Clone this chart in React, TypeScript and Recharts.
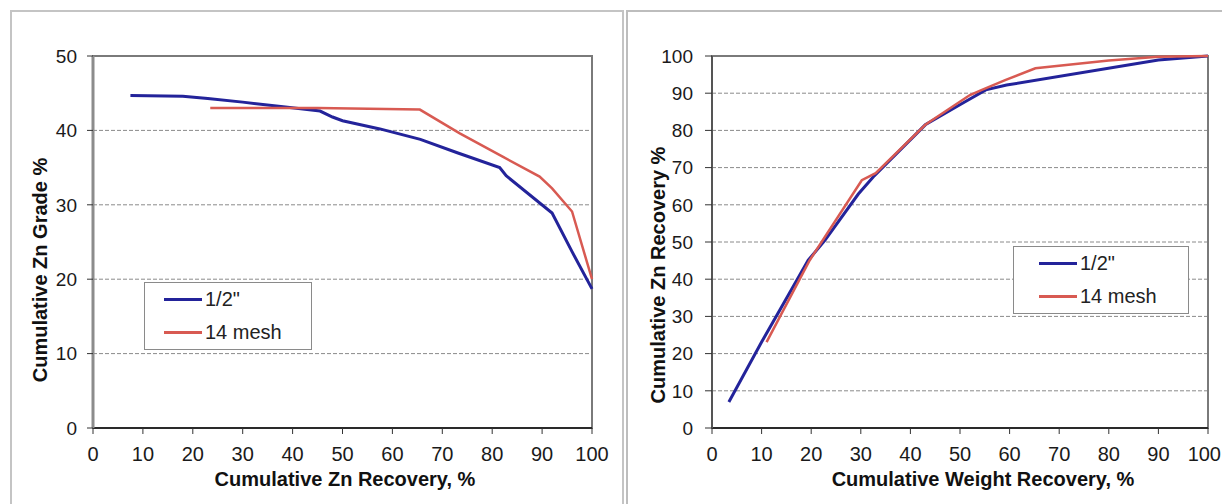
import React from "react";
import {
  LineChart,
  Line,
  XAxis,
  YAxis,
  CartesianGrid,
  Legend,
  ReferenceArea,
} from "recharts";

// shared axis ticks
const recoveryTicks = [0, 10, 20, 30, 40, 50, 60, 70, 80, 90, 100];
const gradeTicks = [0, 10, 20, 30, 40, 50];

// left panel: cumulative Zn recovery (x) vs cumulative Zn grade (y)
const gradeHalfInchX = [7.5, 18, 23, 30, 39, 45.5, 48, 50, 57.5, 65.6, 73, 81.5, 82.8, 92, 96, 100];
const gradeHalfInchY = [44.7, 44.6, 44.3, 43.8, 43.1, 42.6, 41.8, 41.3, 40.2, 38.8, 37.0, 35.0, 33.9, 28.9, 23.7, 18.7];
const gradeMeshX = [23.5, 45, 65.5, 73.5, 82, 89.5, 92, 96, 100];
const gradeMeshY = [43.0, 43.0, 42.8, 39.6, 36.5, 33.8, 32.2, 29.1, 20.0];

// right panel: cumulative weight recovery (x) vs cumulative Zn recovery (y)
const recHalfInchX = [3.4, 10, 19.4, 22.8, 29.5, 32.5, 43, 50.5, 55.2, 59.4, 90, 100];
const recHalfInchY = [7.0, 23.1, 45.1, 50.5, 62.9, 67.5, 81.5, 87.3, 90.9, 92.2, 98.9, 100];
const recMeshX = [11, 19.7, 30.2, 33, 43, 52, 54.3, 59.1, 65.2, 80, 90, 100];
const recMeshY = [23.1, 45.1, 66.6, 68.5, 81.5, 89.5, 90.8, 93.5, 96.7, 98.8, 99.8, 100];

const SERIES_NAMES = ['1/2"', "14 mesh"];
const BLUE = "#23239a";
const RED = "#d85a52";
const FONT = '"Liberation Sans", Arial, sans-serif';

const toPoints = (xs: number[], ys: number[]) => xs.map((x, i) => ({ x, y: ys[i] }));

function AxisTitle({ tx, ty, text, vertical }: { tx: number; ty: number; text: string; vertical?: boolean }) {
  return (
    <text
      x={tx}
      y={ty}
      textAnchor="middle"
      dominantBaseline={vertical ? "central" : "auto"}
      transform={vertical ? `rotate(-90 ${tx} ${ty})` : undefined}
      fontFamily={FONT}
      fontWeight="bold"
      fontSize={20}
      fill="#111"
    >
      {text}
    </text>
  );
}

// x tick; the last label of the right panel sits at the window edge, so pull it in a bit
function XTick({ x, y, payload, clampLast }: any) {
  const last = clampLast && payload.value === 100;
  return (
    <text
      x={last ? x + 13 : x}
      y={y}
      dy="0.71em"
      textAnchor={last ? "end" : "middle"}
      fontFamily={FONT}
      fontSize={20}
      fill="#1a1a1a"
    >
      {payload.value}
    </text>
  );
}

function LegendBox({ payload, width, lineLeft }: any) {
  return (
    <div
      style={{
        width,
        height: 68,
        boxSizing: "border-box",
        border: "1.5px solid #8a8a8a",
        background: "#fff",
        fontFamily: FONT,
        fontSize: 20,
        color: "#222",
      }}
    >
      {(payload ?? []).map((p: any) => (
        <div key={p.value} style={{ display: "flex", alignItems: "center", height: 33 }}>
          <span style={{ display: "inline-block", marginLeft: lineLeft, width: 38, height: 3, background: p.color }} />
          <span style={{ marginLeft: 3 }}>{p.value}</span>
        </div>
      ))}
    </div>
  );
}

const tickStyle = { fontFamily: FONT, fill: "#1a1a1a" };

export default function App() {
  return (
    <div style={{ position: "absolute", left: 0, top: 0, width: 1222, height: 504, overflow: "hidden", background: "#fff" }}>
      {/* panel frames */}
      <div style={{ position: "absolute", left: 10, top: 10, width: 610, height: 600, border: "2px solid #c4c4c4", borderBottom: "none" }} />
      <div style={{ position: "absolute", left: 626, top: 10, width: 700, height: 600, border: "2px solid #bdbdbd", borderBottom: "none" }} />

      <div style={{ position: "absolute", left: 0, top: 0 }}>
        <LineChart width={610} height={504} margin={{ top: 56, right: 18, left: 0, bottom: 16 }}>
          <CartesianGrid horizontal vertical={false} stroke="#8a8a8a" strokeDasharray="4 2" />
          <ReferenceArea x1={0} x2={100} y1={0} y2={50} fill="none" stroke="#7a7a7a" strokeWidth={2} />
          <XAxis
            type="number"
            dataKey="x"
            domain={[0, 100]}
            ticks={recoveryTicks}
            interval={0}
            height={60}
            tickSize={6}
            tickMargin={13}
            tick={<XTick />}
            axisLine={{ stroke: "#111", strokeWidth: 1.5 }}
            tickLine={{ stroke: "#333" }}
            label={<AxisTitle tx={345} ty={486} text="Cumulative  Zn Recovery,  %" />}
          />
          <YAxis
            type="number"
            dataKey="y"
            domain={[0, 50]}
            ticks={gradeTicks}
            interval={0}
            width={93}
            tickSize={6}
            tickMargin={10}
            tick={{ ...tickStyle, fontSize: 19 }}
            axisLine={{ stroke: "#8c8c8c", strokeWidth: 3 }}
            tickLine={{ stroke: "#333" }}
            label={<AxisTitle tx={40} ty={270} text="Cumulative Zn Grade %" vertical />}
          />
          <Legend
            layout="vertical"
            align="center"
            verticalAlign="middle"
            wrapperStyle={{ left: 144, top: 282, width: 168 }}
            content={(props: any) => <LegendBox {...props} width={168} lineLeft={19} />}
          />
          <Line
            data={toPoints(gradeHalfInchX, gradeHalfInchY)}
            dataKey="y"
            name={SERIES_NAMES[0]}
            stroke={BLUE}
            strokeWidth={3}
            dot={false}
            isAnimationActive={false}
          />
          <Line
            data={toPoints(gradeMeshX, gradeMeshY)}
            dataKey="y"
            name={SERIES_NAMES[1]}
            stroke={RED}
            strokeWidth={2.5}
            dot={false}
            isAnimationActive={false}
          />
        </LineChart>
      </div>

      <div style={{ position: "absolute", left: 620, top: 0 }}>
        <LineChart width={602} height={504} margin={{ top: 56, right: 14, left: 0, bottom: 16 }}>
          <CartesianGrid horizontal vertical={false} stroke="#8a8a8a" strokeDasharray="4 2" />
          <ReferenceArea x1={0} x2={100} y1={0} y2={100} fill="none" stroke="#7a7a7a" strokeWidth={2} />
          <XAxis
            type="number"
            dataKey="x"
            domain={[0, 100]}
            ticks={recoveryTicks}
            interval={0}
            height={60}
            tickSize={6}
            tickMargin={13}
            tick={<XTick clampLast />}
            axisLine={{ stroke: "#111", strokeWidth: 1.5 }}
            tickLine={{ stroke: "#333" }}
            label={<AxisTitle tx={363} ty={486} text="Cumulative  Weight Recovery,  %" />}
          />
          <YAxis
            type="number"
            dataKey="y"
            domain={[0, 100]}
            ticks={recoveryTicks}
            interval={0}
            width={92}
            tickSize={7}
            tickMargin={12}
            tick={{ ...tickStyle, fontSize: 19 }}
            axisLine={{ stroke: "#555", strokeWidth: 2 }}
            tickLine={{ stroke: "#333" }}
            label={<AxisTitle tx={38} ty={275} text="Cumulative Zn Recovery %" vertical />}
          />
          <Legend
            layout="vertical"
            align="center"
            verticalAlign="middle"
            wrapperStyle={{ left: 393, top: 246, width: 176 }}
            content={(props: any) => <LegendBox {...props} width={176} lineLeft={25} />}
          />
          <Line
            data={toPoints(recHalfInchX, recHalfInchY)}
            dataKey="y"
            name={SERIES_NAMES[0]}
            stroke={BLUE}
            strokeWidth={3}
            dot={false}
            isAnimationActive={false}
          />
          <Line
            data={toPoints(recMeshX, recMeshY)}
            dataKey="y"
            name={SERIES_NAMES[1]}
            stroke={RED}
            strokeWidth={2.5}
            dot={false}
            isAnimationActive={false}
          />
        </LineChart>
      </div>
    </div>
  );
}
